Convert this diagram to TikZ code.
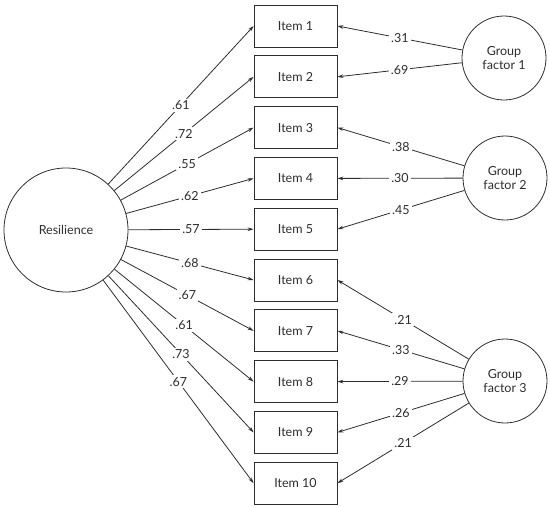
\documentclass[tikz,border=0pt]{standalone}
\usepackage{fontspec}
\setmainfont{Lato}
\usetikzlibrary{arrows.meta}
\definecolor{ink}{RGB}{45,45,45}
\begin{document}
\begin{tikzpicture}[x=1pt,y=-1pt,
  font=\fontsize{12.5}{14}\selectfont,
  itembox/.style={draw=ink, line width=0.8pt, minimum width=83pt, minimum height=42pt, inner sep=0pt, text=ink},
  latent/.style={draw=ink, line width=0.8pt, circle, inner sep=0pt, align=center, text=ink},
  path/.style={draw=ink, line width=0.8pt, -{Stealth[length=6pt,width=3.6pt]}},
  lab/.style={fill=white, inner sep=2pt, text=ink, midway}
]
\useasboundingbox (0,0) rectangle (550,507);
\foreach \i in {1,...,10} {
  \node[itembox] (i\i) at (295.5, {26+50.8*(\i-1)}) {Item \i};
}
\node[latent, minimum size=124pt] (res) at (66,230) {Resilience};
\node[latent, minimum size=84pt] (g1) at (504,58) {Group\\factor 1};
\node[latent, minimum size=84pt] (g2) at (505,178) {Group\\factor 2};
\node[latent, minimum size=84pt] (g3) at (505,381) {Group\\factor 3};

\draw[path] (res) -- node[lab]{.61} (i1.west);
\draw[path] (res) -- node[lab]{.72} (i2.west);
\draw[path] (res) -- node[lab]{.55} (i3.west);
\draw[path] (res) -- node[lab]{.62} (i4.west);
\draw[path] (res) -- node[lab]{.57} (i5.west);
\draw[path] (res) -- node[lab]{.68} (i6.west);
\draw[path] (res) -- node[lab]{.67} (i7.west);
\draw[path] (res) -- node[lab]{.61} (i8.west);
\draw[path] (res) -- node[lab]{.73} (i9.west);
\draw[path] (res) -- node[lab]{.67} (i10.west);

\draw[path] (g1) -- node[lab]{.31} (i1.east);
\draw[path] (g1) -- node[lab]{.69} (i2.east);
\draw[path] (g2) -- node[lab]{.38} (i3.east);
\draw[path] (g2) -- node[lab]{.30} (i4.east);
\draw[path] (g2) -- node[lab]{.45} (i5.east);
\draw[path] (g3) -- node[lab]{.21} (i6.east);
\draw[path] (g3) -- node[lab]{.33} (i7.east);
\draw[path] (g3) -- node[lab]{.29} (i8.east);
\draw[path] (g3) -- node[lab]{.26} (i9.east);
\draw[path] (g3) -- node[lab]{.21} (i10.east);
\end{tikzpicture}
\end{document}
